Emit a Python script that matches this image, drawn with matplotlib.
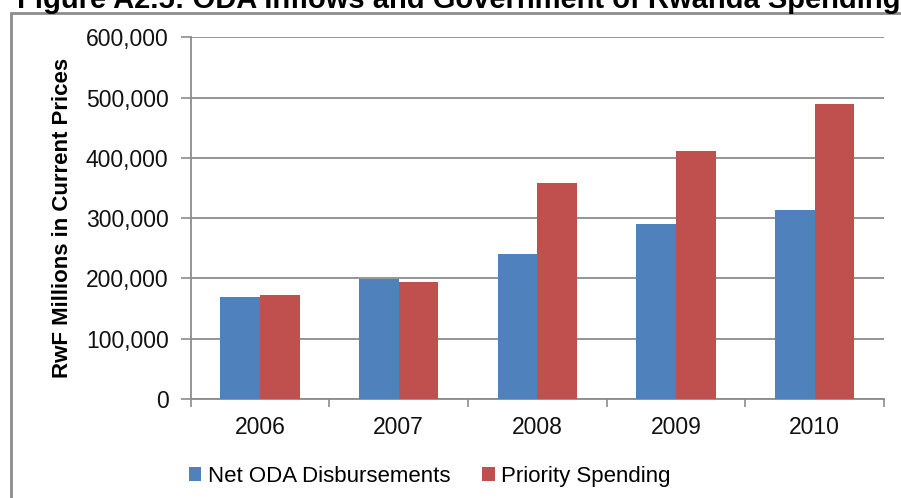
import matplotlib
matplotlib.use("Agg")
import matplotlib.pyplot as plt
import numpy as np
from matplotlib.patches import Rectangle
from matplotlib.ticker import FuncFormatter

plt.rcParams["font.family"] = ["Liberation Sans", "DejaVu Sans"]

# ---------------------------------------------------------------- data (RwF millions)
years = ["2006", "2007", "2008", "2009", "2010"]
net_oda = [170000, 199000, 240000, 290000, 313000]
priority_spending = [172000, 194000, 358000, 411000, 490000]

BLUE = "#4F81BD"
RED = "#C0504D"
GRID = "#8C8C8C"

fig = plt.figure(figsize=(9.01, 4.98), dpi=100)
ax = fig.add_axes([0.2117, 0.1988, 0.7693, 0.7262])

x = np.arange(len(years))
w = 0.287
ax.bar(x - w / 2, net_oda, w, color=BLUE, label="Net ODA Disbursements", zorder=3)
ax.bar(x + w / 2, priority_spending, w, color=RED, label="Priority Spending", zorder=3)

ax.set_xlim(-0.5, len(years) - 0.5)
ax.set_ylim(0, 600000)
ax.set_yticks(np.arange(0, 600001, 100000))
ax.yaxis.set_major_formatter(FuncFormatter(lambda v, _: f"{int(v):,}"))
ax.set_xticks(x)
ax.set_xticklabels(years)
# category boundary ticks on the x axis
ax.set_xticks(np.arange(-0.5, len(years)), minor=True)
ax.tick_params(axis="x", which="major", length=0, pad=12, labelsize=16.5, labelcolor="#111111")
ax.tick_params(axis="x", which="minor", length=6, width=1.2, color=GRID)
ax.tick_params(axis="y", length=7, width=1.2, color=GRID, pad=9, labelsize=16.5,
               labelcolor="#111111")

ax.grid(axis="y", color=GRID, lw=1.3, zorder=0)
for side in ("top", "right"):
    ax.spines[side].set_visible(False)
for side in ("left", "bottom"):
    ax.spines[side].set_color(GRID)
    ax.spines[side].set_linewidth(1.3)

ax.set_ylabel("RwF Millions in Current Prices", fontsize=16, fontweight="bold",
              labelpad=9)

leg = ax.legend(loc="upper center", bbox_to_anchor=(0.345, -0.13), ncol=2, frameon=False,
                fontsize=16, handlelength=0.55, handleheight=0.55, handletextpad=0.3,
                columnspacing=1.45)

# chart frame and clipped caption above it
fig.patches.append(Rectangle((11 / 901, -0.1), 1.2, 1 - 13 / 498 + 0.1,
                             transform=fig.transFigure, fill=False,
                             edgecolor="#8C8C8C", lw=2))
fig.text(17 / 901, 1 - 8 / 498, "Figure A2.5: ODA Inflows and Government of Rwanda Spending",
         fontsize=21, fontweight="bold", va="baseline", ha="left")

fig.savefig("out.png", dpi=100)
